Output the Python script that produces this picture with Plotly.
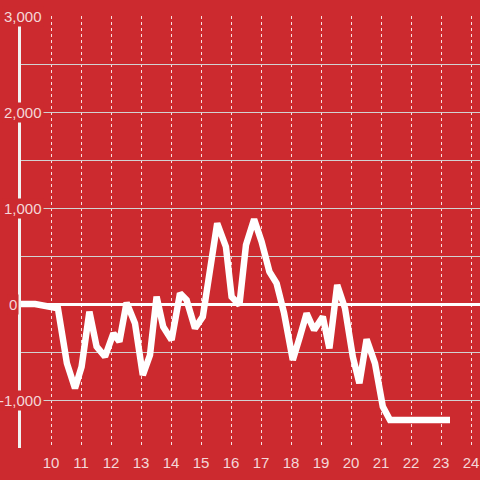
import plotly.graph_objects as go

# data
x_vals = [9.0, 9.47, 10.23, 10.53, 10.8, 11.02, 11.28, 11.52, 11.8, 12.08, 12.28, 12.52,
          12.8, 13.06, 13.3, 13.52, 13.74, 14.02, 14.3, 14.52, 14.8, 15.06, 15.3, 15.54,
          15.83, 16.02, 16.28, 16.5, 16.77, 17.02, 17.28, 17.52, 17.77, 18.06, 18.28,
          18.52, 18.77, 19.06, 19.28, 19.54, 19.8, 20.06, 20.28, 20.52, 20.8, 21.06,
          21.3, 23.3]
y_vals = [0, 0, -45, -618, -878, -653, -80, -444, -549, -306, -392, 14,
          -201, -740, -531, 76, -236, -375, 111, 42, -253, -132, 354, 840,
          597, 76, -10, 615, 882, 649, 337, 215, -97, -583, -358,
          -97, -271, -132, -462, 198, -45, -549, -826, -368, -618, -1069,
          -1208, -1208]

y_label_vals = [3000, 2000, 1000, 0, -1000]
x_tick_vals = list(range(10, 25))

BG = "#cc2a2f"
LABEL = "rgba(255,255,255,0.82)"
FONT = "Liberation Sans, Arial, sans-serif"

W, H = 480, 480
ML, MR, MT, MB = 21, 0, 16, 32
PW = W - ML - MR


def px_to_paper(px):
    return (px - ML) / PW


fig = go.Figure()
fig.add_trace(go.Scatter(x=x_vals, y=y_vals, mode="lines",
                         line=dict(color="white", width=6.5), hoverinfo="skip"))

annotations = []
for v in y_label_vals:
    txt = f"{v:,}"
    if v == 0:
        pos, anchor = px_to_paper(7), "left"
    else:
        pos, anchor = px_to_paper(44), "right"
    annotations.append(dict(x=pos, xref="paper", y=v, yref="y", text=txt,
                            showarrow=False, xanchor=anchor, yanchor="middle",
                            font=dict(family=FONT, size=15, color=LABEL),
                            bgcolor=BG, borderpad=1))

fig.update_layout(
    width=W, height=H,
    margin=dict(l=ML, r=MR, t=MT, b=MB, autoexpand=False),
    paper_bgcolor=BG, plot_bgcolor=BG,
    showlegend=False,
    font=dict(family=FONT, size=15, color=LABEL),
    xaxis=dict(range=[9, 24.3], tickvals=x_tick_vals, showgrid=True,
               gridcolor="rgba(255,255,255,0.85)", griddash="dot", gridwidth=1,
               zeroline=False, showline=False, ticks="", ticklabelstandoff=4,
               automargin=False, tickfont=dict(size=15, color=LABEL)),
    yaxis=dict(range=[-1500, 3000], dtick=500, tick0=0, showticklabels=False,
               showgrid=True, gridcolor="#d2d2d2", gridwidth=1, automargin=False,
               zeroline=True, zerolinecolor="white", zerolinewidth=3,
               showline=True, linecolor="#f2f2f2", linewidth=3, ticks=""),
    annotations=annotations,
)

fig.write_html("out.html", config={"displayModeBar": False},
               post_script="document.body.style.margin='0';document.body.style.overflow='hidden';")
